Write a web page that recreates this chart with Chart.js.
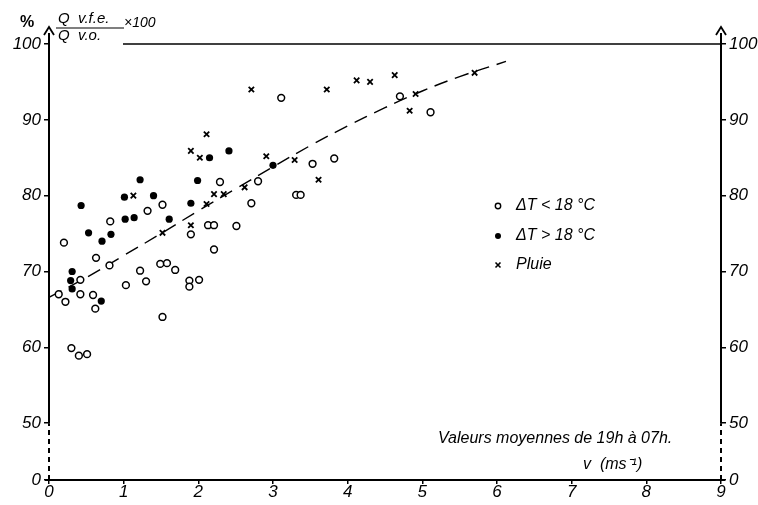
<!DOCTYPE html>
<html>
<head>
<meta charset="utf-8">
<script src="https://cdn.jsdelivr.net/npm/chart.js@4/dist/chart.umd.min.js"></script>
<style>
  html, body { margin: 0; padding: 0; background: #fff; }
</style>
</head>
<body>
<canvas id="chart" width="758" height="505"></canvas>
<script>
// tick values
const xTicks = [0, 1, 2, 3, 4, 5, 6, 7, 8, 9];
const yTicks = [50, 60, 70, 80, 90, 100];
const yBreak = 42.5; // the axis is cut below 50, this spot is labelled 0

// [v (m/s), %]
const coolNights = [
    [0.13, 67.0], [0.20, 73.8], [0.22, 66.0], [0.30, 59.9], [0.40, 58.9], [0.51, 59.1],
    [0.42, 68.9], [0.42, 67.0], [0.59, 66.9], [0.62, 65.1], [0.63, 71.8], [0.81, 70.8],
    [0.82, 76.6], [1.03, 68.2], [1.22, 70.1], [1.30, 68.7], [1.32, 78.0], [1.49, 71.0],
    [1.58, 71.1], [1.52, 78.8], [1.52, 64.0], [1.69, 70.2], [1.88, 68.8], [1.88, 68.0],
    [2.01, 68.9], [1.90, 74.9], [2.13, 76.1], [2.21, 76.1], [2.21, 72.9], [2.29, 81.8],
    [2.51, 76.0], [2.71, 79.0], [2.80, 81.9], [3.11, 92.9], [3.31, 80.1], [3.37, 80.1],
    [3.53, 84.2], [3.82, 84.9], [4.70, 93.1], [5.11, 91.0]
];
const warmNights = [
    [0.31, 70.0], [0.29, 68.8], [0.31, 67.7], [0.43, 78.7], [0.53, 75.1], [0.70, 66.1],
    [0.71, 74.0], [0.83, 74.9], [1.01, 79.8], [1.02, 76.9], [1.14, 77.1], [1.22, 82.1],
    [1.40, 80.0], [1.61, 76.9], [1.90, 79.0], [1.99, 82.0], [2.15, 85.0], [2.41, 85.9],
    [3.00, 84.0]
];
const rainNights = [
    [1.13, 80.0], [1.52, 75.1], [1.90, 85.9], [2.02, 85.0], [2.11, 88.1], [1.90, 76.1],
    [2.11, 78.9], [2.21, 80.2], [2.34, 80.2], [2.62, 81.1], [2.91, 85.2], [2.71, 94.0],
    [3.29, 84.7], [3.61, 82.1], [3.72, 94.0], [4.12, 95.2], [4.30, 95.0], [4.63, 95.9],
    [4.91, 93.4], [4.83, 91.2], [5.70, 96.2]
];
// dashed curve, read at a few places
const trendX = [0, 0.5, 1, 1.5, 2, 2.5, 3, 3.5, 4, 4.5, 5, 5.5, 6.12];
const trendY = [66.6, 69.2, 72.1, 75.0, 78.0, 80.9, 83.8, 86.6, 89.2, 91.6, 93.8, 95.7, 97.7];

const legendLabels = ['\u0394T < 18 \u00b0C', '\u0394T > 18 \u00b0C', 'Pluie'];

const FONT = 'Liberation Sans';
const toPts = arr => arr.map(([x, y]) => ({ x, y }));

// axes with arrows, the cut, the top line and the free texts
const framePlugin = {
    id: 'frame',
    afterDraw(chart) {
        const { ctx } = chart;
        const x = chart.scales.x, y = chart.scales.y;
        const xl = x.getPixelForValue(0), xr = x.getPixelForValue(9);
        const yb = y.getPixelForValue(yBreak);
        const y50 = y.getPixelForValue(50);
        const yTop = y.getPixelForValue(100);
        const tip = yTop - 17;

        ctx.save();
        ctx.strokeStyle = '#000';
        ctx.fillStyle = '#000';

        // bottom axis
        ctx.lineWidth = 2;
        ctx.beginPath();
        ctx.moveTo(xl - 4, yb);
        ctx.lineTo(xr + 4, yb);
        ctx.stroke();

        [xl, xr].forEach(px => {
            // dashed where the scale is cut
            ctx.lineWidth = 2;
            ctx.setLineDash([5, 4]);
            ctx.beginPath();
            ctx.moveTo(px, yb);
            ctx.lineTo(px, y50);
            ctx.stroke();
            ctx.setLineDash([]);
            ctx.beginPath();
            ctx.moveTo(px, y50);
            ctx.lineTo(px, tip + 6);
            ctx.stroke();
            // arrow head
            ctx.lineWidth = 1.8;
            ctx.beginPath();
            ctx.moveTo(px - 5, tip + 8);
            ctx.lineTo(px, tip);
            ctx.lineTo(px + 5, tip + 8);
            ctx.stroke();
        });

        // top line
        ctx.lineWidth = 1.5;
        ctx.beginPath();
        ctx.moveTo(123, Math.round(yTop));
        ctx.lineTo(xr, Math.round(yTop));
        ctx.stroke();

        // y label as a fraction
        ctx.textBaseline = 'alphabetic';
        ctx.textAlign = 'left';
        ctx.font = 'bold 16px ' + FONT;
        ctx.fillText('%', 20, 27);
        ctx.font = 'italic 15px ' + FONT;
        ctx.fillText('Q  v.f.e.', 58, 23);
        ctx.fillText('Q  v.o.', 58, 40);
        ctx.font = 'italic 14px ' + FONT;
        ctx.fillText('\u00d7100', 124, 27);
        ctx.lineWidth = 1.2;
        ctx.beginPath();
        ctx.moveTo(56, 28);
        ctx.lineTo(124, 28);
        ctx.stroke();

        // notes
        ctx.font = 'italic 16px ' + FONT;
        ctx.fillText('Valeurs moyennes de 19h \u00e0 07h.', 438, 443);
        ctx.fillText('v  (ms\u207b\u00b9)', 583, 469);

        // legend
        const rows = [206, 236, 265];
        ctx.textBaseline = 'middle';
        legendLabels.forEach((txt, i) => {
            const sx = 498, sy = rows[i];
            ctx.lineWidth = 1.4;
            if (i === 0) {
                ctx.beginPath(); ctx.arc(sx, sy, 2.7, 0, Math.PI * 2); ctx.stroke();
            } else if (i === 1) {
                ctx.beginPath(); ctx.arc(sx, sy, 3, 0, Math.PI * 2); ctx.fill();
            } else {
                ctx.lineWidth = 1.6;
                ctx.beginPath();
                ctx.moveTo(sx - 2.5, sy - 2.5); ctx.lineTo(sx + 2.5, sy + 2.5);
                ctx.moveTo(sx + 2.5, sy - 2.5); ctx.lineTo(sx - 2.5, sy + 2.5);
                ctx.stroke();
            }
            ctx.fillText(txt, 516, sy);
        });
        ctx.restore();
    }
};

const tickFont = { family: FONT, style: 'italic', size: 17, lineHeight: 1 };

function yScale(position, width) {
    return {
        type: 'linear',
        position: position,
        min: yBreak,
        max: 100,
        afterBuildTicks: s => { s.ticks = [yBreak].concat(yTicks).map(v => ({ value: v })); },
        afterFit: s => { s.width = width; },
        ticks: {
            color: '#000',
            font: tickFont,
            padding: 3,
            callback: v => (v === yBreak ? '0' : String(v))
        },
        grid: { drawOnChartArea: false, drawTicks: true, tickLength: 5, color: '#000', lineWidth: 1.5 },
        border: { display: false }
    };
}

const ctx = document.getElementById('chart').getContext('2d');
new Chart(ctx, {
    type: 'scatter',
    data: {
        datasets: [{
            label: legendLabels[0],
            data: toPts(coolNights),
            pointStyle: 'circle',
            pointRadius: 3.4,
            borderWidth: 1.5,
            borderColor: '#000',
            backgroundColor: '#fff'
        }, {
            label: legendLabels[1],
            data: toPts(warmNights),
            pointStyle: 'circle',
            pointRadius: 3.6,
            borderWidth: 0,
            borderColor: '#000',
            backgroundColor: '#000'
        }, {
            label: legendLabels[2],
            data: toPts(rainNights),
            pointStyle: 'crossRot',
            pointRadius: 3.8,
            borderWidth: 1.8,
            borderColor: '#000',
            backgroundColor: '#000'
        }, {
            type: 'line',
            label: 'courbe',
            data: trendX.map((v, i) => ({ x: v, y: trendY[i] })),
            borderColor: '#000',
            borderWidth: 1.4,
            borderDash: [14, 8],
            pointRadius: 0,
            tension: 0.4,
            fill: false
        }]
    },
    options: {
        responsive: false,
        animation: false,
        devicePixelRatio: 1,
        layout: { padding: { top: 44, left: 0, right: 0, bottom: 0 } },
        plugins: {
            legend: { display: false },
            tooltip: { enabled: false }
        },
        scales: {
            x: {
                type: 'linear',
                min: 0,
                max: 9,
                afterBuildTicks: s => { s.ticks = xTicks.map(v => ({ value: v })); },
                afterFit: s => { s.height = 25; },
                ticks: { color: '#000', font: tickFont, padding: 0, maxRotation: 0 },
                grid: { drawOnChartArea: false, drawTicks: true, tickLength: 4, color: '#000', lineWidth: 1.5 },
                border: { display: false }
            },
            y: yScale('left', 49),
            y2: yScale('right', 37)
        }
    },
    plugins: [framePlugin]
});
</script>
</body>
</html>
